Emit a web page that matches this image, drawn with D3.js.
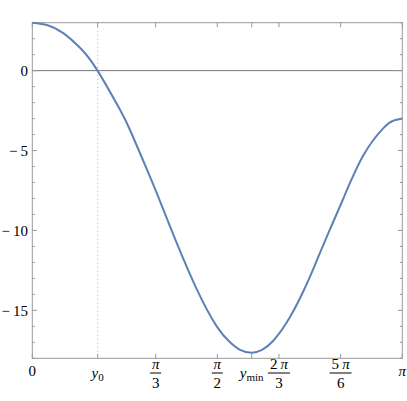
<!DOCTYPE html>
<html>
<head>
<meta charset="utf-8">
<script src="https://cdn.jsdelivr.net/npm/d3@7"></script>
<style>
  html, body { margin: 0; padding: 0; background: #fff; }
  svg { display: block; }
  text { font-family: "Liberation Serif", "DejaVu Serif", serif; fill: #000; }
</style>
</head>
<body>
<div id="chart"></div>
<script>
// curve (x in radians, y value)
var xs = [0, 0.13, 0.263, 0.405, 0.547, 0.745, 0.844, 1.014, 1.112, 1.226, 1.396, 1.566, 1.679, 1.764, 1.863, 1.95, 2.046, 2.188, 2.33, 2.42, 2.528, 2.641, 2.811, 2.981, 3.06, Math.PI];
var ys = [3, 2.84, 2.35, 1.43, 0.08, -2.45, -3.95, -6.9, -8.68, -10.78, -13.67, -16.0, -17.0, -17.47, -17.65, -17.47, -16.9, -15.42, -13.35, -11.8, -9.92, -8.0, -5.3, -3.6, -3.15, -3];

var y0 = 0.555, ymin = 1.863;
var xTicks = [0, y0, Math.PI / 3, Math.PI / 2, ymin, 2 * Math.PI / 3, 5 * Math.PI / 6, Math.PI];
var xTickLabels = ["0", "y0", "π/3", "π/2", "ymin", "2 π/3", "5 π/6", "π"];
var yMajor = [0, -5, -10, -15];
var yLabels = ["0", "\u2212\u20095", "\u2212\u200910", "\u2212\u200915"];

var width = 407, height = 401;
var L = 32.3, R = 402.3, T = 22.7, B = 358.3;

var svg = d3.select("#chart").append("svg")
  .attr("width", width).attr("height", height);

var x = d3.scaleLinear().domain([0, Math.PI]).range([L, R]);
var y = d3.scaleLinear().domain([-18, 3]).range([B, T]);

var frameCol = "#999";

// dotted line at y0
svg.append("line")
  .attr("x1", x(y0)).attr("x2", x(y0)).attr("y1", T).attr("y2", B)
  .attr("stroke", "#aaa").attr("stroke-width", 1).attr("stroke-dasharray", "1,3");

// zero axis
svg.append("line")
  .attr("x1", L).attr("x2", R).attr("y1", y(0)).attr("y2", y(0))
  .attr("stroke", "#777").attr("stroke-width", 1);

// ticks y (left and right, inward)
var minor = d3.range(-18, 4, 1);
minor.forEach(function(v) {
  var len = (v % 5 === 0) ? 4.5 : 2.5;
  svg.append("line").attr("x1", L).attr("x2", L + len).attr("y1", y(v)).attr("y2", y(v))
    .attr("stroke", frameCol);
  svg.append("line").attr("x1", R).attr("x2", R - len).attr("y1", y(v)).attr("y2", y(v))
    .attr("stroke", frameCol);
});

// ticks x (bottom and top)
xTicks.forEach(function(v) {
  svg.append("line").attr("x1", x(v)).attr("x2", x(v)).attr("y1", B).attr("y2", B - 4.5)
    .attr("stroke", frameCol);
  svg.append("line").attr("x1", x(v)).attr("x2", x(v)).attr("y1", T).attr("y2", T + 4.5)
    .attr("stroke", frameCol);
});

// frame
svg.append("rect")
  .attr("x", L).attr("y", T).attr("width", R - L).attr("height", B - T)
  .attr("fill", "none").attr("stroke", frameCol).attr("stroke-width", 1);

// curve
var line = d3.line()
  .x(function(d, i) { return x(xs[i]); })
  .y(function(d, i) { return y(ys[i]); })
  .curve(d3.curveNatural);

svg.append("path")
  .datum(xs)
  .attr("d", line)
  .attr("fill", "none")
  .attr("stroke", "#5E81B5")
  .attr("stroke-width", 2);

// y labels
yMajor.forEach(function(v, i) {
  svg.append("text")
    .attr("x", 28).attr("y", y(v))
    .attr("dy", "0.35em")
    .attr("text-anchor", "end")
    .style("font-size", "15px")
    .text(yLabels[i]);
});

// x labels
var fs = 15, midY = 373;
xTickLabels.forEach(function(lab, i) {
  var cx = x(xTicks[i]);
  if (lab.indexOf("/") >= 0) {
    var parts = lab.split("/");
    var num = parts[0], den = parts[1];
    var t = svg.append("text").attr("x", cx).attr("y", midY - 4)
      .attr("text-anchor", "middle").style("font-size", fs + "px");
    var nums = num.split(" ");
    if (nums.length > 1) {
      t.append("tspan").text(nums[0] + "\u2009");
    }
    t.append("tspan").style("font-style", "italic").text(nums[nums.length - 1]);
    var bw = nums.length > 1 ? 22 : 11;
    svg.append("line").attr("x1", cx - bw / 2).attr("x2", cx + bw / 2)
      .attr("y1", midY).attr("y2", midY).attr("stroke", "#000").attr("stroke-width", 1);
    svg.append("text").attr("x", cx).attr("y", midY + 15)
      .attr("text-anchor", "middle").style("font-size", fs + "px").text(den);
  } else if (lab === "y0" || lab === "ymin") {
    var t2 = svg.append("text").attr("x", cx).attr("y", midY + 5)
      .attr("text-anchor", "middle").style("font-size", fs + "px");
    t2.append("tspan").style("font-style", "italic").text("y");
    t2.append("tspan").attr("dy", 3).style("font-size", "11px").text(lab.slice(1));
  } else {
    var t3 = svg.append("text").attr("x", cx).attr("y", midY + 3)
      .attr("text-anchor", "middle").style("font-size", fs + "px");
    if (lab === "π") t3.style("font-style", "italic");
    t3.text(lab);
  }
});
</script>
</body>
</html>
